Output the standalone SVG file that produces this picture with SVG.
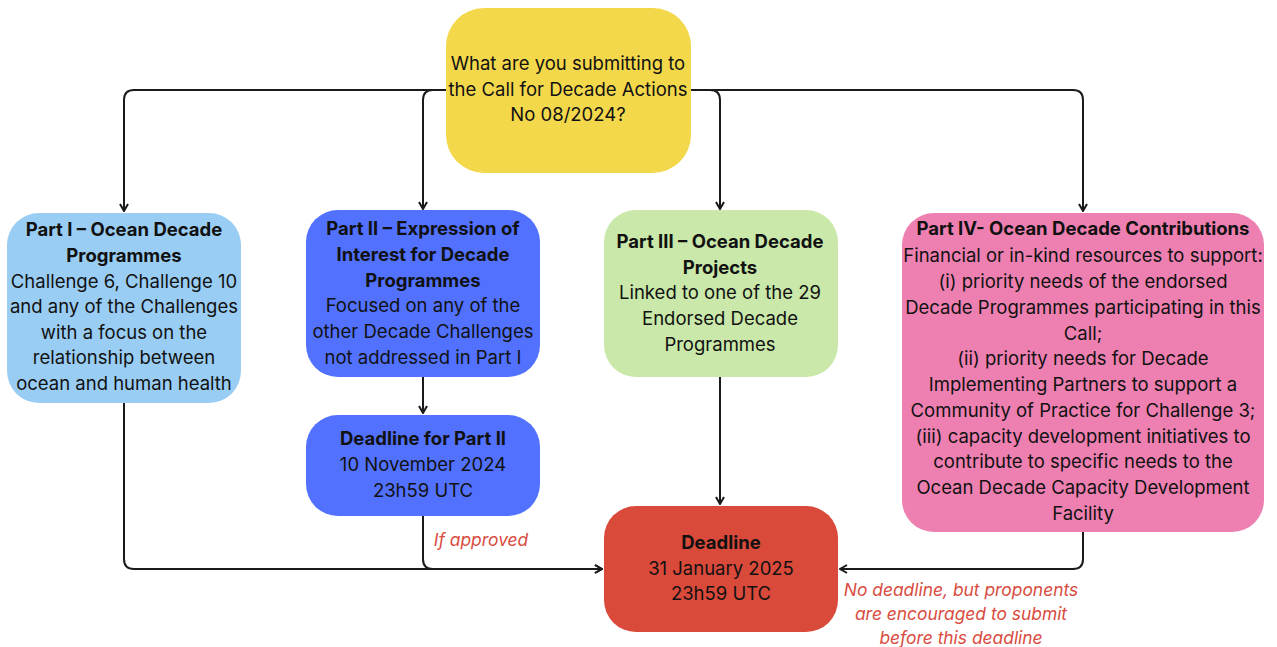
<svg xmlns="http://www.w3.org/2000/svg" width="1277" height="647" viewBox="0 0 1277 647">
<defs>
<marker id="arr" viewBox="0 0 10 10" refX="9" refY="5" markerWidth="10" markerHeight="10" markerUnits="userSpaceOnUse" orient="auto">
<path d="M2,1 L9,5 L2,9" fill="none" stroke="#1a1a1a" stroke-width="2"/>
</marker>
<style>
.t{font-family:Inter,"Noto Sans","Liberation Sans",sans-serif;font-size:18.5px;fill:#111;text-anchor:middle}
.b{font-weight:700}
.lbl{font-family:Inter,"Noto Sans","Liberation Sans",sans-serif;font-size:17.4px;font-style:italic;fill:#D94C3F;text-anchor:middle}
.c{fill:none;stroke:#1a1a1a;stroke-width:2}
</style>
</defs>
<rect width="1277" height="647" fill="#fff"/>
<g id="connectors">
<path class="c" d="M446 90 H134 Q124 90 124 100 V211" marker-end="url(#arr)"/>
<path class="c" d="M446 90 H433 Q423 90 423 100 V209" marker-end="url(#arr)"/>
<path class="c" d="M691 90 H710 Q720 90 720 100 V209" marker-end="url(#arr)"/>
<path class="c" d="M691 90 H1073 Q1083 90 1083 100 V211" marker-end="url(#arr)"/>
<path class="c" d="M423 377 V413" marker-end="url(#arr)"/>
<path class="c" d="M720 377 V504" marker-end="url(#arr)"/>
<path class="c" d="M124 403 V559 Q124 569 134 569 H602" marker-end="url(#arr)"/>
<path class="c" d="M423 516 V559 Q423 569 433 569 H602" marker-end="url(#arr)"/>
<path class="c" d="M1083 532 V559 Q1083 569 1073 569 H840" marker-end="url(#arr)"/>
<text class="lbl" x="481" y="546">If approved</text>
<text class="lbl" x="961" y="596">No deadline, but proponents</text>
<text class="lbl" x="961" y="620">are encouraged to submit</text>
<text class="lbl" x="961" y="644">before this deadline</text>
</g>
<g id="top">
<rect x="446" y="8" width="245" height="165" rx="38" fill="#F4D84C"/>
<text class="t" x="568" y="70">What are you submitting to</text>
<text class="t" x="568" y="96">the Call for Decade Actions</text>
<text class="t" x="568" y="121">No 08/2024?</text>
</g>
<g id="part1">
<rect x="7" y="213" width="234" height="190" rx="32" fill="#9ACDF4"/>
<text class="t b" x="124" y="236">Part I – Ocean Decade</text>
<text class="t b" x="124" y="262">Programmes</text>
<text class="t" x="124" y="288">Challenge 6, Challenge 10</text>
<text class="t" x="124" y="313">and any of the Challenges</text>
<text class="t" x="124" y="339">with a focus on the</text>
<text class="t" x="124" y="364">relationship between</text>
<text class="t" x="124" y="390">ocean and human health</text>
</g>
<g id="part2">
<rect x="306" y="210" width="234" height="167" rx="32" fill="#5271FF"/>
<text class="t b" x="423" y="235">Part II – Expression of</text>
<text class="t b" x="423" y="261">Interest for Decade</text>
<text class="t b" x="423" y="287">Programmes</text>
<text class="t" x="423" y="312">Focused on any of the</text>
<text class="t" x="423" y="338">other Decade Challenges</text>
<text class="t" x="423" y="364">not addressed in Part I</text>
</g>
<g id="deadline2">
<rect x="306" y="415" width="234" height="101" rx="32" fill="#5271FF"/>
<text class="t b" x="423" y="445">Deadline for Part II</text>
<text class="t" x="423" y="471">10 November 2024</text>
<text class="t" x="423" y="497">23h59 UTC</text>
</g>
<g id="part3">
<rect x="604" y="210" width="234" height="167" rx="32" fill="#C9E8A9"/>
<text class="t b" x="720" y="248">Part III – Ocean Decade</text>
<text class="t b" x="720" y="274">Projects</text>
<text class="t" x="720" y="299">Linked to one of the 29</text>
<text class="t" x="720" y="325">Endorsed Decade</text>
<text class="t" x="720" y="351">Programmes</text>
</g>
<g id="deadline">
<rect x="604" y="506" width="234" height="126" rx="32" fill="#D94A3B"/>
<text class="t b" x="721" y="549">Deadline</text>
<text class="t" x="721" y="575">31 January 2025</text>
<text class="t" x="721" y="600">23h59 UTC</text>
</g>
<g id="part4">
<rect x="902" y="213" width="362" height="319" rx="32" fill="#ED80B0"/>
<text class="t b" x="1083" y="235">Part IV- Ocean Decade Contributions</text>
<text class="t" x="1083" y="262">Financial or in-kind resources to support:</text>
<text class="t" x="1083" y="288">(i) priority needs of the endorsed</text>
<text class="t" x="1083" y="314">Decade Programmes participating in this</text>
<text class="t" x="1083" y="340">Call;</text>
<text class="t" x="1083" y="365">(ii) priority needs for Decade</text>
<text class="t" x="1083" y="391">Implementing Partners to support a</text>
<text class="t" x="1083" y="417">Community of Practice for Challenge 3;</text>
<text class="t" x="1083" y="443">(iii) capacity development initiatives to</text>
<text class="t" x="1083" y="468">contribute to specific needs to the</text>
<text class="t" x="1083" y="494">Ocean Decade Capacity Development</text>
<text class="t" x="1083" y="520">Facility</text>
</g>
</svg>
